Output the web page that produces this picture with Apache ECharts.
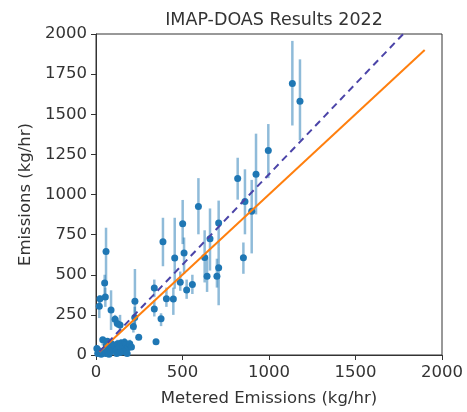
<!DOCTYPE html>
<html>
<head>
<meta charset="utf-8">
<script src="https://cdn.jsdelivr.net/npm/echarts@6/dist/echarts.min.js"></script>
<style>html,body{margin:0;padding:0;background:#fff}#c{width:467px;height:412px}</style>
</head>
<body>
<div id="c"></div>
<script>
// Metered emissions (kg/hr)
var metered = [1135,1179,996,925,819,861,900,852,592,501,709,659,387,509,455,628,709,699,642,487,557,524,337,407,447,337,376,347,247,225,224,216,58,50,54,23,19,87,110,123,139,39,66,
  5,10,20,30,40,55,65,75,85,95,105,115,125,135,145,155,165,175,185,195,205,160,120,90,140,60,180];
// IMAP-DOAS estimated emissions (kg/hr)
var measured = [1692,1581,1274,1126,1100,956,896,606,925,818,822,724,705,635,604,608,543,491,491,454,440,405,417,351,349,286,226,82,111,335,234,177,645,448,362,351,304,280,222,197,187,95,86,
  40,10,25,5,15,10,30,5,20,45,60,30,70,50,75,55,80,65,45,70,50,20,10,70,15,60,10];
// error bar lower bounds
var errLow = [1430,1338,1102,876,968,752,633,506,752,691,674,526,553,506,413,452,310,420,393,400,380,350,360,300,250,240,180,70,95,156,180,140,444,380,300,300,230,156,190,170,150,60,60,
  20,0,5,0,0,0,10,0,0,25,40,10,45,30,50,30,55,40,25,45,30,0,0,45,0,35,0];
// error bar upper bounds
var errHigh = [1957,1842,1439,1379,1229,1157,1091,701,1102,966,962,913,855,732,855,777,674,600,608,520,500,470,470,420,420,340,260,95,125,536,300,220,793,500,420,370,360,403,250,230,250,110,100,
  60,25,45,20,35,25,50,20,40,65,80,50,95,70,100,80,105,90,65,95,70,40,25,95,35,85,30];
// reference lines
var oneToOne = [[20,20],[1900,1900]];
var fitLine = [[20,22.5],[1776,2000]];
var ticksX = [0,500,1000,1500,2000];
var ticksY = [0,250,500,750,1000,1250,1500,1750,2000];

var pts = metered.map(function(x,i){return [x, measured[i]];});
var bars = metered.map(function(x,i){return [x, errLow[i], errHigh[i]];});

var chart = echarts.init(document.getElementById('c'), null, {renderer:'canvas'});
var font = 'DejaVu Sans';
function plain(v){ return String(v); }
chart.setOption({
  animation:false,
  backgroundColor:'#fff',
  title:{text:'IMAP-DOAS Results 2022', left:269, textAlign:'center', top:6,
    textStyle:{fontFamily:font, fontSize:17.5, fontWeight:'normal', color:'#333'}},
  grid:{left:96, right:25, top:34, bottom:53.5, show:true, borderColor:'#333', borderWidth:1, backgroundColor:'transparent'},
  xAxis:{type:'value', min:ticksX[0], max:ticksX[ticksX.length-1], interval:500,
    name:'Metered Emissions (kg/hr)', nameLocation:'middle', nameGap:35,
    nameTextStyle:{fontFamily:font, fontSize:16.5, color:'#333'},
    axisLine:{show:true, lineStyle:{color:'#333', width:1}},
    axisTick:{show:true, length:5, lineStyle:{color:'#333'}},
    axisLabel:{fontFamily:font, fontSize:16.5, color:'#333', margin:9, formatter:plain},
    splitLine:{show:false}},
  yAxis:{type:'value', min:ticksY[0], max:ticksY[ticksY.length-1], interval:250,
    name:'Emissions (kg/hr)', nameLocation:'middle', nameGap:62,
    nameTextStyle:{fontFamily:font, fontSize:16.5, color:'#333'},
    axisLine:{show:true, lineStyle:{color:'#333', width:1}},
    axisTick:{show:true, length:5, lineStyle:{color:'#333'}},
    axisLabel:{fontFamily:font, fontSize:16.5, color:'#333', margin:9, formatter:plain},
    splitLine:{show:false}},
  series:[
    {type:'custom', data:bars, encode:{x:0, y:[1,2]}, z:2,
      renderItem:function(params, api){
        var a = api.coord([api.value(0), api.value(1)]);
        var b = api.coord([api.value(0), api.value(2)]);
        return {type:'line', shape:{x1:a[0], y1:a[1], x2:b[0], y2:b[1]},
          style:{stroke:'rgba(31,119,180,0.5)', lineWidth:2.5}};
      }},
    {type:'scatter', data:pts, symbol:'circle', symbolSize:7, z:3,
      itemStyle:{color:'#1f77b4', opacity:1}},
    {type:'line', data:oneToOne, symbol:'none', z:4,
      lineStyle:{color:'#ff7f0e', width:2}},
    {type:'line', data:fitLine, symbol:'none', z:5,
      lineStyle:{color:'#4b44a8', width:2, type:[7,5]}}
  ]
});
</script>
</body>
</html>
